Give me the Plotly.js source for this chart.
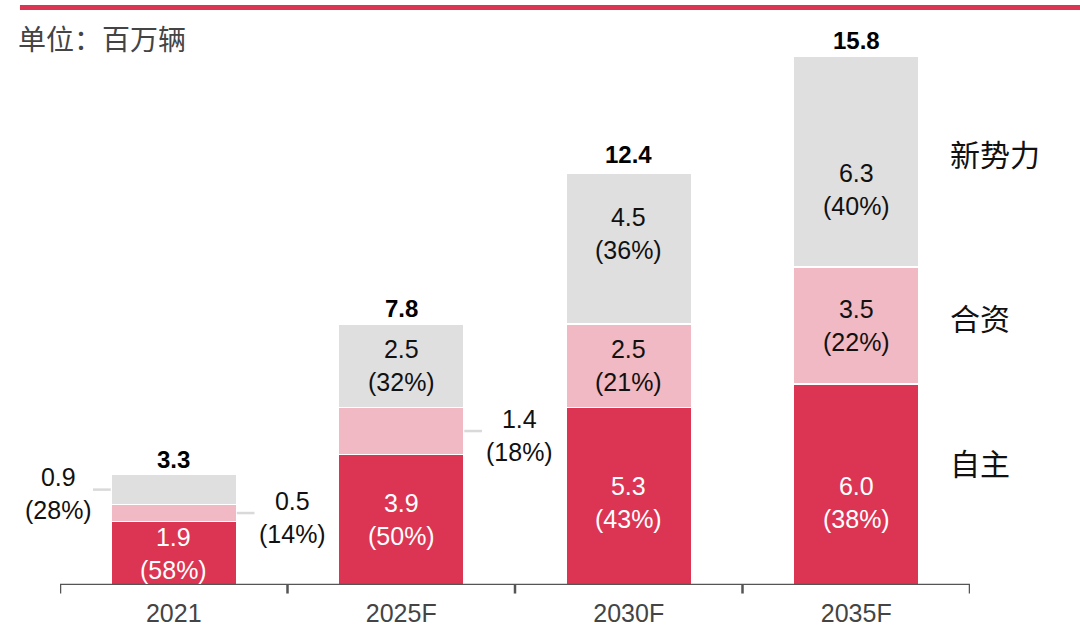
<!DOCTYPE html>
<html>
<head>
<meta charset="utf-8">
<script src="https://cdn.plot.ly/plotly-3.0.1.min.js"></script>
<style>html,body{margin:0;padding:0;background:#fff;}#chart{width:1080px;height:644px;}</style>
</head>
<body>
<div id="chart"></div>
<script>
const categories = ['2021', '2025F', '2030F', '2035F'];
const domestic = [1.9, 3.9, 5.3, 6.0];
const domesticPct = [58, 50, 43, 38];
const jointVenture = [0.5, 1.4, 2.5, 3.5];
const jointVenturePct = [14, 18, 21, 22];
const newForces = [0.9, 2.5, 4.5, 6.3];
const newForcesPct = [28, 32, 36, 40];
const totals = [3.3, 7.8, 12.4, 15.8];
const seriesNames = ['自主', '合资', '新势力'];

const RED = '#DC3553', PINK = '#F0B9C3', GRAY = '#DFDFDF';
const NUM_FONT = 'Liberation Sans, Arial, sans-serif';
const CJK_FONT = 'Noto Sans CJK SC, sans-serif';

const xIdx = categories.map((c, i) => i);
const colors = [RED, PINK, GRAY];
const segs = [domestic, jointVenture, newForces];
const pcts = [domesticPct, jointVenturePct, newForcesPct];

const traces = segs.map((arr, s) => ({
  type: 'bar', x: xIdx, y: arr, name: seriesNames[s], width: 0.55, hoverinfo: 'skip',
  marker: {color: colors[s], line: {color: '#fff', width: 1.5}}
}));

const annotations = [];
const shapes = [];
const lbl = (v, p) => v.toFixed(1) + '<br>(' + p + '%)';

// small segments labelled outside with leader lines
const outside = {'0-2': -1, '0-1': 1, '1-1': 1};
// label nudges (pixels) for a few segments
const nudge = {'3-2': -28, '3-0': -18, '2-0': -6, '2-2': 15};

xIdx.forEach(i => {
  let base = 0;
  segs.forEach((arr, s) => {
    const v = arr[i];
    const mid = base + v / 2;
    const key = i + '-' + s;
    const color = s === 0 ? '#fff' : '#111';
    if (outside[key]) {
      const side = outside[key];
      const lx = side < 0 ? -0.5 : i + 0.52;
      annotations.push({x: lx, xshift: side < 0 ? -2 : 0, y: mid, yshift: -4, xref: 'x', yref: 'y', text: lbl(v, pcts[s][i]), showarrow: false,
        font: {family: NUM_FONT, size: 25, color: '#111'}, align: 'center'});
      shapes.push({type: 'line', xref: 'x', yref: 'y', x0: i + side * 0.277, x1: i + side * 0.355, y0: mid, y1: mid,
        line: {color: '#D9D9D9', width: 2.5}});
    } else {
      annotations.push({x: i, y: mid, yshift: nudge[key] || 0, xref: 'x', yref: 'y', text: lbl(v, pcts[s][i]), showarrow: false,
        font: {family: NUM_FONT, size: 25, color: color}, align: 'center'});
    }
    base += v;
  });
  annotations.push({x: i, y: totals[i], xref: 'x', yref: 'y', yanchor: 'bottom', yshift: 0, text: '<b>' + totals[i].toFixed(1) + '</b>',
    showarrow: false, font: {family: NUM_FONT, size: 24, color: '#000'}});
});

// right-side series labels next to the last bar
const legendShift = [23, 9, 9];
let base3 = 0;
segs.forEach((arr, s) => {
  const v = arr[3];
  annotations.push({x: 1.0, xref: 'paper', xanchor: 'left', xshift: -22, y: base3 + v / 2, yref: 'y', yshift: legendShift[s],
    text: seriesNames[s], showarrow: false, font: {family: CJK_FONT, size: 30, color: '#111'}});
  base3 += v;
});

annotations.push({x: 0, xref: 'paper', xshift: -44, xanchor: 'left', y: 1, yref: 'paper', yanchor: 'middle', yshift: -22,
  text: '单位：百万辆', showarrow: false, font: {family: CJK_FONT, size: 28, color: '#444'}});

shapes.push({type: 'line', xref: 'paper', yref: 'paper', x0: -0.044, x1: 1.13, y0: 1.015, y1: 1.015,
  line: {color: RED, width: 5}});

// axis line with ticks at category boundaries
shapes.push({type: 'line', xref: 'x', yref: 'y', x0: -0.5, x1: 3.5, y0: 0, y1: 0, line: {color: '#555', width: 2.5}});
for (let b = -0.5; b <= 3.5; b += 1) {
  shapes.push({type: 'line', xref: 'x', yref: 'paper', x0: b, x1: b, y0: 0, y1: -0.015, line: {color: '#555', width: 2.5}});
}

const layout = {
  width: 1080, height: 644,
  margin: {l: 60, r: 110, t: 16, b: 59},
  barmode: 'stack',
  showlegend: false,
  paper_bgcolor: '#fff', plot_bgcolor: '#fff',
  xaxis: {
    type: 'linear', range: [-0.5, 3.5], tickmode: 'array', tickvals: xIdx, ticktext: categories,
    ticks: '', showline: false, showgrid: false, zeroline: false,
    tickfont: {family: NUM_FONT, size: 25, color: '#444'}, ticklabelstandoff: 11
  },
  yaxis: {range: [0, 17], visible: false, showgrid: false, zeroline: false},
  annotations: annotations,
  shapes: shapes
};

Plotly.newPlot('chart', traces, layout, {staticPlot: true});
</script>
</body>
</html>
